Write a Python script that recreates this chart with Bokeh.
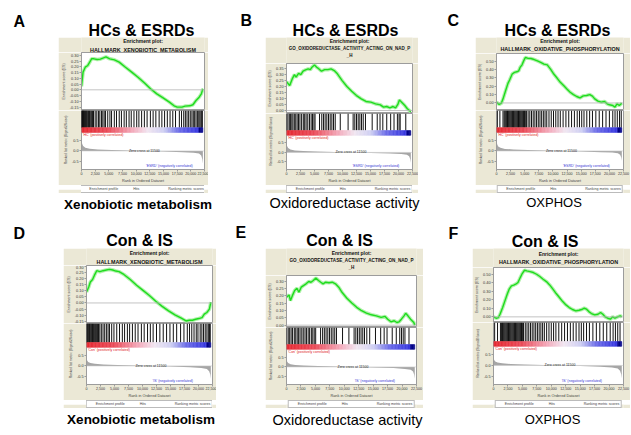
import numpy as np
from bokeh.plotting import figure
from bokeh.layouts import column, row
from bokeh.models import Range1d, FixedTicker, NumeralTickFormatter, Legend, LegendItem, Span, Spacer
from bokeh.embed import file_html
from bokeh.resources import INLINE
from bokeh.core.properties import value

# ---------------- data ----------------
N_GENES = 22200
x_ticks = [0, 2500, 5000, 7500, 10000, 12500, 15000, 17500, 20000, 22500]
rm_ticks = [-0.5, 0.0, 0.5]

# running enrichment score curves (rank, ES)
A_es_rank = [0, 287, 689, 1148, 1607, 1837, 2296, 2870, 3444, 4018, 4477, 5166, 6027, 6888, 8036, 9184,
             10332, 11480, 12628, 13776, 14924, 16072, 16933, 17507, 18368, 18942, 19803, 20377, 20951,
             21525, 21927, 22200]
A_es = [0.03, 0.154, 0.197, 0.212, 0.249, 0.270, 0.270, 0.264, 0.267, 0.278, 0.287, 0.270, 0.261, 0.241,
        0.197, 0.154, 0.110, 0.061, 0.009, -0.035, -0.070, -0.107, -0.139, -0.151, -0.151, -0.142, -0.139,
        -0.130, -0.093, -0.064, -0.035, 0.009]
B_es_rank = [0, 568, 1022, 1420, 1704, 2158, 2556, 2954, 3408, 3862, 4260, 4544, 4998, 5396, 5793, 6248,
             6816, 7384, 7952, 8520, 9088, 9940, 10792, 11644, 12496, 13348, 14200, 15052, 15904, 16756,
             17324, 17892, 18460, 19028, 19482, 19880, 20164, 20562, 21130, 21584, 22200]
B_es = [0.240, 0.207, 0.262, 0.298, 0.276, 0.309, 0.298, 0.326, 0.337, 0.345, 0.339, 0.359, 0.378, 0.359,
        0.345, 0.326, 0.339, 0.339, 0.345, 0.331, 0.304, 0.248, 0.199, 0.160, 0.124, 0.097, 0.075, 0.069,
        0.055, 0.047, 0.028, 0.033, 0.022, 0.033, 0.022, 0.050, 0.088, 0.069, 0.041, 0.014, -0.010]
C_es_rank = [0, 464, 870, 1160, 1624, 2030, 2320, 2784, 3190, 3596, 3944, 4176, 4524, 4814, 5104, 5510,
             6090, 6670, 7250, 7830, 8410, 8990, 9570, 10150, 10730, 11310, 11890, 12470, 13050, 13630,
             14210, 14790, 15370, 15950, 16530, 16994, 17400, 17980, 18560, 19140, 19604, 20010, 20590,
             20996, 21344, 21750, 22200]
C_es = [0.010, -0.018, -0.002, 0.049, 0.148, 0.234, 0.274, 0.345, 0.364, 0.372, 0.384, 0.424, 0.455, 0.502,
        0.542, 0.534, 0.530, 0.518, 0.502, 0.483, 0.463, 0.455, 0.404, 0.345, 0.297, 0.246, 0.207, 0.167,
        0.128, 0.100, 0.077, 0.061, 0.085, 0.089, 0.100, 0.081, 0.049, 0.022, 0.010, 0.018, -0.010, -0.022,
        -0.030, -0.049, -0.010, -0.030, -0.002]
D_es_rank = [0, 399, 684, 1083, 1425, 1824, 2394, 2964, 3534, 4104, 4674, 5244, 5814, 6669, 7809, 8949,
             10089, 11229, 12369, 13509, 14649, 15789, 16929, 17784, 18354, 18924, 19494, 20064, 20634,
             21033, 21489, 21945, 22200]
D_es = [0.090, 0.132, 0.174, 0.194, 0.230, 0.267, 0.259, 0.267, 0.273, 0.278, 0.273, 0.264, 0.259, 0.236,
        0.194, 0.146, 0.104, 0.062, 0.014, -0.028, -0.065, -0.098, -0.126, -0.149, -0.143, -0.143, -0.135,
        -0.129, -0.121, -0.093, -0.079, -0.051, 0.006]
E_es_rank = [0, 452, 678, 1017, 1413, 1808, 2147, 2543, 2938, 3390, 3842, 4238, 4633, 5085, 5537, 5933,
             6328, 6780, 7345, 7910, 8475, 9040, 9605, 10453, 11300, 12148, 12995, 13843, 14690, 15538,
             16385, 17063, 17515, 18080, 18645, 19097, 19493, 19888, 20340, 20623, 21018, 21470, 22035, 22200]
E_es = [0.191, 0.207, 0.168, 0.202, 0.237, 0.253, 0.225, 0.260, 0.271, 0.283, 0.299, 0.294, 0.306, 0.322,
        0.306, 0.294, 0.283, 0.294, 0.290, 0.294, 0.283, 0.260, 0.225, 0.184, 0.152, 0.122, 0.099, 0.083,
        0.071, 0.064, 0.053, 0.060, 0.041, 0.023, 0.030, 0.018, 0.023, 0.041, 0.064, 0.081, 0.064, 0.041,
        0.018, 0.0]
F_es_rank = [0, 452, 848, 1130, 1582, 1978, 2373, 2712, 3108, 3503, 3842, 4238, 4633, 4972, 5368, 5763,
             6328, 6893, 7458, 8023, 8588, 9153, 9718, 10283, 10848, 11413, 11978, 12543, 13108, 13673,
             14238, 14803, 15255, 15707, 16103, 16498, 16950, 17515, 18080, 18532, 18928, 19323, 19775,
             20227, 20623, 21018, 21470, 21922, 22200]
F_es = [0.000, -0.016, -0.008, 0.031, 0.109, 0.187, 0.265, 0.324, 0.363, 0.371, 0.382, 0.402, 0.460, 0.507,
        0.546, 0.538, 0.530, 0.519, 0.499, 0.472, 0.441, 0.413, 0.374, 0.324, 0.273, 0.226, 0.179, 0.140,
        0.109, 0.086, 0.070, 0.078, 0.086, 0.101, 0.090, 0.062, 0.039, 0.023, 0.031, 0.051, 0.031, 0.000,
        -0.016, -0.027, 0.000, -0.016, 0.000, 0.012, 0.000]

# hit positions (rank of gene-set members)
A_hits = [20, 90, 180, 260, 350, 430, 520, 640, 760, 880, 1000, 1150, 1300, 1450, 1600, 1800, 2000, 2200,
          2500, 2800, 3100, 3350, 3650, 3900, 4150, 4400, 4800, 5200, 5500, 6000, 6400, 6900, 7300, 7800,
          8200, 8700, 9100, 9600, 10100, 10500, 11000, 11500, 12000, 12600, 13100, 13600, 14200, 14700,
          15200, 15700, 16200, 16700, 17200, 17900, 18300, 18700, 19000, 19300, 19600, 19900, 20200, 20450,
          20700, 20950, 21200, 21450, 21650, 21850, 22000, 22100]
B_hits = [30, 250, 500, 700, 950, 1150, 1400, 1650, 1900, 2150, 2400, 2700, 3000, 3250, 3500, 3800, 4100,
          4400, 4650, 4900, 5100, 5900, 6300, 6600, 6900, 7200, 7500, 7800, 8100, 8400, 8700, 9600, 11000,
          11900, 12200, 12500, 12800, 13100, 13400, 13700, 14100, 15300, 16200, 16700, 17200, 17900, 18600,
          19200, 19800, 20100, 20300, 21300]
C_hits = [150, 600, 1150, 1350, 1500, 1650, 1800, 1950, 2100, 2250, 2400, 2550, 2700, 2850, 3000, 3150,
          3300, 3450, 3600, 3750, 3900, 4050, 4200, 4350, 4500, 4650, 4800, 4950, 5100, 5300, 5600, 5900,
          6200, 6500, 6800, 7100, 7400, 7700, 8000, 8300, 8600, 8900, 9300, 9700, 10100, 10500, 10900,
          11300, 11800, 12300, 12800, 13300, 13800, 14300, 14700, 15100, 15500, 16000, 16500, 17000, 17600,
          18200, 18800, 19400, 20000, 20600, 21000, 21400, 21800, 22100]
D_hits = [40, 150, 270, 400, 520, 650, 790, 930, 1080, 1230, 1400, 1580, 1760, 1950, 2150, 2380, 2650,
          2950, 3250, 3550, 3850, 4100, 4500, 4900, 5400, 5900, 6400, 6800, 7300, 7700, 8200, 8700, 9200,
          9800, 10300, 10900, 11400, 11900, 12500, 13100, 13700, 14300, 14900, 15500, 16100, 16800, 17400,
          18000, 18400, 18800, 19200, 19600, 19900, 20300, 20600, 20900, 21200, 21500, 21750, 21950, 22100]
E_hits = [40, 300, 550, 800, 1050, 1350, 1600, 1850, 2100, 2350, 2650, 2900, 3200, 3450, 3750, 4000, 4300,
          4550, 4800, 5050, 5900, 6250, 6550, 6850, 7150, 7450, 7750, 8050, 8350, 8650, 9700, 10800, 11700,
          12000, 12300, 12600, 12900, 13200, 13500, 13900, 14400, 15400, 16300, 16900, 17400, 18300, 19000,
          19600, 19900, 20200, 20500, 21200]
F_hits = [200, 700, 1200, 1400, 1550, 1700, 1850, 2000, 2150, 2300, 2450, 2600, 2750, 2900, 3050, 3200,
          3350, 3500, 3650, 3800, 3950, 4100, 4250, 4400, 4550, 4700, 4850, 5000, 5200, 5500, 5800, 6100,
          6400, 6700, 7000, 7300, 7600, 7900, 8200, 8500, 8800, 9200, 9600, 10000, 10400, 10800, 11300,
          11800, 12300, 12800, 13300, 13800, 14300, 14800, 15200, 15600, 16100, 16600, 17200, 17800, 18400,
          19000, 19600, 20200, 20700, 21100, 21500, 21900]

# ranked list metric (signal-to-noise) profile
rm_rank = [0, 40, 120, 300, 700, 1500, 3000, 5500, 8500, 11500, 15000, 18500, 20500, 21500, 21900, 22100, 22200]
A_rm = [0.68, 0.50, 0.35, 0.24, 0.16, 0.11, 0.07, 0.045, 0.02, 0.0, -0.03, -0.06, -0.09, -0.13, -0.22, -0.40, -0.62]
B_rm = [0.62, 0.46, 0.33, 0.23, 0.15, 0.10, 0.07, 0.045, 0.02, 0.0, -0.03, -0.06, -0.09, -0.12, -0.20, -0.36, -0.55]
C_rm = [0.58, 0.44, 0.32, 0.22, 0.15, 0.10, 0.07, 0.045, 0.02, 0.0, -0.03, -0.06, -0.08, -0.11, -0.18, -0.32, -0.48]
D_rm = [0.50, 0.36, 0.26, 0.19, 0.14, 0.10, 0.07, 0.045, 0.02, 0.0, -0.03, -0.06, -0.10, -0.15, -0.26, -0.42, -0.62]
E_rm = [0.52, 0.38, 0.27, 0.20, 0.14, 0.10, 0.07, 0.045, 0.02, 0.0, -0.03, -0.06, -0.10, -0.14, -0.24, -0.40, -0.60]
F_rm = [0.50, 0.36, 0.26, 0.19, 0.14, 0.10, 0.07, 0.045, 0.02, 0.0, -0.03, -0.06, -0.10, -0.15, -0.25, -0.42, -0.62]
zero_cross = [11500, 11500, 11500, 11500, 11500, 11500]

# colour bar of the ranked list
grad_pos = [0.0, 0.22, 0.42, 0.55, 0.68, 0.80, 0.965, 0.97, 1.0]
grad_col = ["#e52a32", "#ea4a58", "#f3a9ba", "#f1e6f1", "#cfd0f2", "#6e6ee8", "#3535df", "#05058a", "#05058a"]

gene_set_xeno = ["HALLMARK_XENOBIOTIC_METABOLISM"]
gene_set_oxido = ["GO_OXIDOREDUCTASE_ACTIVITY_ACTING_ON_NAD_P", "_H"]
gene_set_oxphos = ["HALLMARK_OXIDATIVE_PHOSPHORYLATION"]

# ---------------- style ----------------
BEIGE = "#ebe8d6"
FRAME = "#9c9c9c"
GREEN = "#1edc1e"
HALO = "#a8f0a2"
FONT = "Liberation Sans"
X_MAX = 22500
W_TOTAL = 630


def fig(w, h, xr, yr, bl=0, br=0, bb=0, xaxis=False, yaxis=False, bg=BEIGE):
    p = figure(width=w, height=h, x_range=xr, y_range=yr, title=None,
               output_backend="svg", toolbar_location=None,
               x_axis_location="below" if xaxis else None,
               y_axis_location="left" if yaxis else None,
               min_border_left=bl, min_border_right=br, min_border_top=0, min_border_bottom=bb)
    p.grid.visible = False
    p.border_fill_color = bg
    p.background_fill_color = bg
    p.outline_line_color = None
    return p


def style_axis(ax, ticks, fmt, label, label_size="3.6px", tick_size="3.8px"):
    ax.ticker = FixedTicker(ticks=ticks)
    ax.formatter = NumeralTickFormatter(format=fmt)
    ax.major_label_text_font_size = tick_size
    ax.major_label_text_font = FONT
    ax.major_label_text_color = "#333333"
    ax.major_label_standoff = 1
    ax.major_tick_out = 2
    ax.major_tick_in = 0
    ax.minor_tick_out = 0
    ax.minor_tick_in = 0
    ax.axis_line_color = FRAME
    ax.major_tick_line_color = FRAME
    ax.axis_label = label
    ax.axis_label_text_font_size = label_size
    ax.axis_label_text_font = FONT
    ax.axis_label_text_font_style = "normal"
    ax.axis_label_text_color = "#444444"
    ax.axis_label_standoff = 1


def hex2rgb(h):
    return [int(h[i:i + 2], 16) for i in (1, 3, 5)]


def gradient(nbins=90):
    edges = np.linspace(0, N_GENES, nbins + 1)
    centers = (edges[:-1] + edges[1:]) / 2 / N_GENES
    rgb = np.array([hex2rgb(c) for c in grad_col], dtype=float)
    cols = []
    for t in centers:
        r = [np.interp(t, grad_pos, rgb[:, k]) for k in range(3)]
        cols.append("#%02x%02x%02x" % tuple(int(round(v)) for v in r))
    return edges, cols


def gsea_box(s):
    w, bl, br = s["w"], s["bl"], s["br"]
    # header text
    hd = fig(w, s["hh"], Range1d(0, 1), Range1d(0, s["hh"]))
    lines = ["Enrichment plot:"] + s["name"]
    sizes = ["5px"] + [s["name_size"]] * len(s["name"])
    for txt, yy, sz in zip(lines, s["head_y"], sizes):
        hd.text(x=[0.5], y=[yy], text=[txt], text_align="center", text_baseline="middle",
                text_font=value(FONT), text_font_style="bold", text_font_size=sz, text_color="#111111")
    # enrichment score
    es = fig(w, s["es_h"], Range1d(0, X_MAX), Range1d(*s["es_range"]), bl=bl, br=br, yaxis=True)
    es.background_fill_color = "white"
    es.outline_line_color = FRAME
    style_axis(es.yaxis[0], s["es_ticks"], "0.00", "Enrichment score (ES)")
    es.add_layout(Span(location=0, dimension="width", line_color="#b4b4b4", line_width=0.8))
    es.line(s["es_x"], s["es_y"], line_color=HALO, line_width=3.6, line_alpha=0.9)
    es.line(s["es_x"], s["es_y"], line_color=GREEN, line_width=1.4)
    # hits + colour bar + ranked list metric in one frame
    ph, pr, bb = s["hits_h"], s["rk_f"], 13
    rk_lo, rk_hi = -0.9, 0.9
    y_end = rk_hi + (rk_hi - rk_lo) * ph / pr
    lo = fig(w, ph + pr + bb, Range1d(0, X_MAX), Range1d(rk_lo, y_end), bl=bl, br=br, bb=bb,
             xaxis=True, yaxis=True)
    lo.background_fill_color = "white"
    lo.outline_line_color = FRAME
    g = 5.0 / (ph - 5)
    lo.extra_y_ranges = {"hits": Range1d(-(5.0 + pr) / (ph - 5), 1)}
    lo.segment(x0=s["hits"], y0=0, x1=s["hits"], y1=1, line_color="#111111", line_width=1,
               y_range_name="hits")
    edges, cols = gradient()
    lo.quad(left=edges[:-1], right=edges[1:], bottom=-g, top=0, fill_color=cols, line_color=cols,
            line_width=0.5, y_range_name="hits")
    lo.varea(x=rm_rank, y1=0, y2=s["rm"], fill_color="#a6a6a6")
    lo.segment(x0=[0], y0=[0], x1=[X_MAX], y1=[0], line_color="#c8c8c8", line_width=0.6)
    style_axis(lo.xaxis[0], x_ticks, "0,0", "Rank in Ordered Dataset", "3.8px", "3.6px")
    lo.xaxis[0].major_label_standoff = 0
    style_axis(lo.yaxis[0], rm_ticks, "0.0", "Ranked list metric (Signal2Noise)", "3.3px")
    lo.yaxis[0].bounds = (rk_lo, rk_hi)
    lo.text(x=[250], y=[0.86], text=[s["pos"]], text_color="#e02424", text_font_size="3.5px",
            text_baseline="top", text_font=value(FONT))
    lo.text(x=[s["zc"]], y=[0.0], text=["Zero cross at %d" % s["zc"]], text_color="#222222",
            text_font_size="3.5px", text_align="center", text_baseline="middle", text_font=value(FONT))
    lo.text(x=[11800], y=[-0.74], text=[s["neg"]], text_color="#3434d4", text_font_size="3.5px",
            text_baseline="middle", text_font=value(FONT))
    # legend
    lg = fig(w, s["leg_h"], Range1d(0, 1), Range1d(0, 1))
    r1 = lg.line(x=[], y=[], line_color=GREEN, line_width=1)
    r2 = lg.line(x=[], y=[], line_color="black", line_width=1)
    r3 = lg.line(x=[], y=[], line_color="#a0a0a0", line_width=1)
    leg = Legend(items=[LegendItem(label="Enrichment profile", renderers=[r1]),
                        LegendItem(label="Hits", renderers=[r2]),
                        LegendItem(label="Ranking metric scores", renderers=[r3])],
                 location="center", orientation="horizontal")
    leg.label_text_font_size = "3.6px"
    leg.label_text_font = FONT
    leg.glyph_width = 6
    leg.glyph_height = 3
    leg.label_height = 3
    leg.label_standoff = 2
    leg.spacing = 7
    leg.padding = 1
    leg.margin = 0
    leg.border_line_color = "#777777"
    leg.border_line_width = 0.6
    leg.background_fill_color = "white"
    leg.background_fill_alpha = 1
    lg.add_layout(leg, "center")
    return column(hd, es, lo, lg)


def strip(h, entries):
    p = fig(W_TOTAL, h, Range1d(0, W_TOTAL), Range1d(0, h), bg="white")
    for (x, y, txt, size, bold, align) in entries:
        p.text(x=[x], y=[y], text=[txt], text_font=value(FONT), text_font_size=size,
               text_font_style="bold" if bold else "normal", text_align=align,
               text_baseline="alphabetic", text_color="black")
    return p


specA = dict(w=150, bl=19, br=4, hh=15, head_y=[11.5, 3.0], name=gene_set_xeno, name_size="5.4px",
             es_h=58, es_range=(-0.18, 0.325), es_ticks=[-0.15, -0.1, -0.05, 0, 0.05, 0.1, 0.15, 0.2, 0.25, 0.3],
             es_x=A_es_rank, es_y=A_es, hits_h=23, rk_f=39, hits=A_hits, rm=A_rm, zc=zero_cross[0],
             pos="'HC' (positively correlated)", neg="'ESRD' (negatively correlated)", leg_h=8)
specB = dict(w=153, bl=18, br=6, hh=26, head_y=[23, 15, 8], name=gene_set_oxido, name_size="4.5px",
             es_h=50, es_range=(-0.025, 0.39), es_ticks=[0, 0.05, 0.1, 0.15, 0.2, 0.25, 0.3, 0.35],
             es_x=B_es_rank, es_y=B_es, hits_h=23, rk_f=36, hits=B_hits, rm=B_rm, zc=zero_cross[1],
             pos="'HC' (positively correlated)", neg="'ESRD' (negatively correlated)", leg_h=8)
specC = dict(w=155, bl=18, br=7, hh=16, head_y=[13, 5], name=gene_set_oxphos, name_size="5.4px",
             es_h=57, es_range=(-0.09, 0.59), es_ticks=[0, 0.1, 0.2, 0.3, 0.4, 0.5],
             es_x=C_es_rank, es_y=C_es, hits_h=23, rk_f=39, hits=C_hits, rm=C_rm, zc=zero_cross[2],
             pos="'HC' (positively correlated)", neg="'ESRD' (negatively correlated)", leg_h=8)
specD = dict(w=153, bl=18, br=4, hh=17, head_y=[13, 4], name=gene_set_xeno, name_size="5.4px",
             es_h=58, es_range=(-0.17, 0.31), es_ticks=[-0.15, -0.1, -0.05, 0, 0.05, 0.1, 0.15, 0.2, 0.25, 0.3],
             es_x=D_es_rank, es_y=D_es, hits_h=25, rk_f=39, hits=D_hits, rm=D_rm, zc=zero_cross[3],
             pos="'Con' (positively correlated)", neg="'IS' (negatively correlated)", leg_h=8)
specE = dict(w=158, bl=18, br=7, hh=27, head_y=[23, 15.5, 8], name=gene_set_oxido, name_size="4.6px",
             es_h=52, es_range=(-0.016, 0.34), es_ticks=[0, 0.05, 0.1, 0.15, 0.2, 0.25, 0.3],
             es_x=E_es_rank, es_y=E_es, hits_h=23, rk_f=37, hits=E_hits, rm=E_rm, zc=zero_cross[4],
             pos="'Con' (positively correlated)", neg="'IS' (negatively correlated)", leg_h=8)
specF = dict(w=158, bl=18, br=7, hh=19, head_y=[14, 6], name=gene_set_oxphos, name_size="5.4px",
             es_h=55, es_range=(-0.066, 0.578), es_ticks=[0, 0.1, 0.2, 0.3, 0.4, 0.5],
             es_x=F_es_rank, es_y=F_es, hits_h=25, rk_f=40, hits=F_hits, rm=F_rm, zc=zero_cross[5],
             pos="'Con' (positively correlated)", neg="'IS' (negatively correlated)", leg_h=8)


def middle(specs, gaps, h):
    kids = []
    for gap, s in zip(gaps, specs):
        kids.append(Spacer(width=gap, height=h))
        kids.append(gsea_box(s))
    return row(kids)


head1 = strip(37, [(13, 16, "A", "16px", True, "left"), (141, 7.5, "HCs & ESRDs", "16px", True, "center"),
                   (240, 17, "B", "16px", True, "left"), (345, 7.5, "HCs & ESRDs", "16px", True, "center"),
                   (447, 17, "C", "16px", True, "left"), (557, 7.5, "HCs & ESRDs", "16px", True, "center")])
cap1 = strip(27, [(137.5, 16, "Xenobiotic metabolism", "13.5px", True, "center"),
                  (344, 18, "Oxidoreductase activity", "14.5px", False, "center"),
                  (553.5, 18, "OXPHOS", "13px", False, "center")])
head2 = strip(28, [(13, 15.5, "D", "16px", True, "left"), (139, 8, "Con & IS", "16px", True, "center"),
                   (235, 16.5, "E", "16px", True, "left"), (339, 8, "Con & IS", "16px", True, "center"),
                   (448, 15.5, "F", "16px", True, "left"), (544.5, 7.5, "Con & IS", "16px", True, "center")])
cap2 = strip(22, [(140.5, 11, "Xenobiotic metabolism", "13.5px", True, "center"),
                  (347, 11, "Oxidoreductase activity", "14.5px", False, "center"),
                  (552, 11, "OXPHOS", "13px", False, "center")])

mid1 = middle([specA, specB, specC], [58, 57, 57], 156)
mid2 = middle([specD, specE, specF], [63, 49, 49], 160)

layout = column(head1, mid1, cap1, head2, mid2, cap2)

open("out.html", "w").write(file_html(layout, INLINE))
